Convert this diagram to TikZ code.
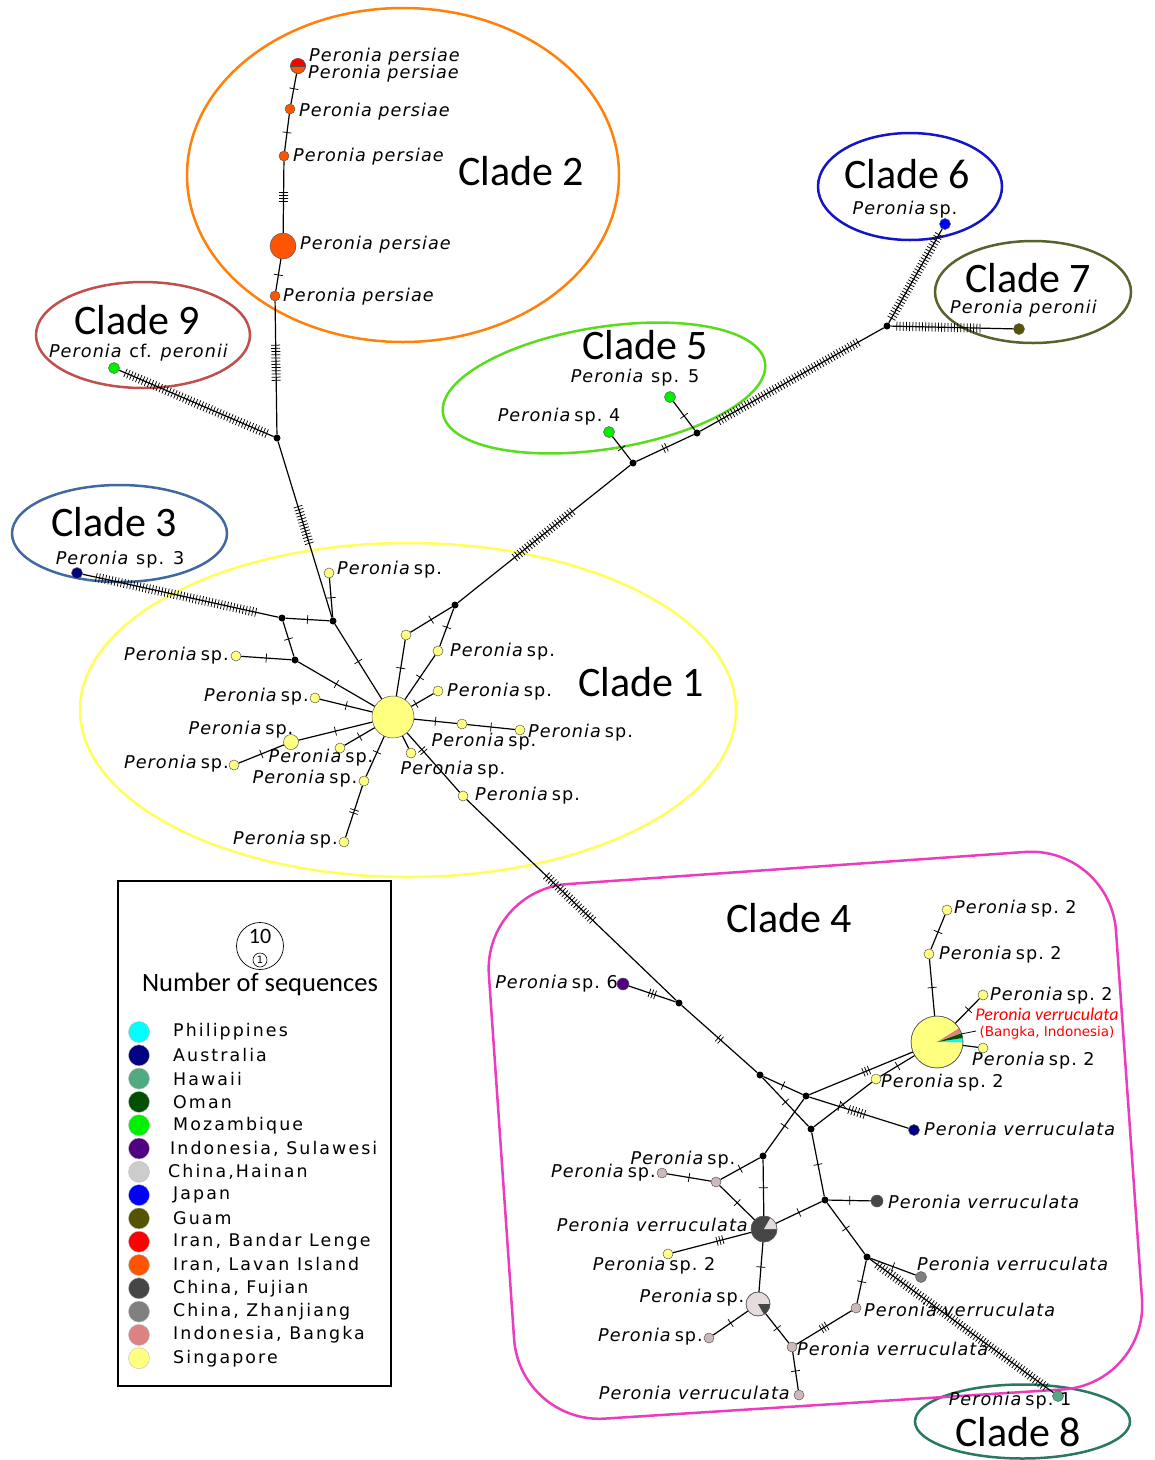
\documentclass[tikz,border=0pt]{standalone}
\usepackage{fontspec}
\setmainfont{DejaVu Sans}
\newfontfamily\labfont{DejaVu Sans}[LetterSpace=6]
\newfontfamily\legfont{DejaVu Sans}[LetterSpace=12]
\newfontfamily\cladefont{Carlito}
\usetikzlibrary{decorations.markings}
\definecolor{cCtwo}{RGB}{255,128,10}
\definecolor{cCnine}{RGB}{192,80,77}
\definecolor{cCthree}{RGB}{65,105,160}
\definecolor{cCone}{RGB}{255,255,90}
\definecolor{cCfive}{RGB}{90,220,30}
\definecolor{cCsix}{RGB}{20,20,200}
\definecolor{cCseven}{RGB}{85,100,45}
\definecolor{cCfour}{RGB}{235,60,190}
\definecolor{cCeight}{RGB}{40,120,100}
\definecolor{phil}{RGB}{0,255,255}
\definecolor{aus}{RGB}{0,0,128}
\definecolor{haw}{RGB}{80,170,130}
\definecolor{oman}{RGB}{0,80,0}
\definecolor{moz}{RGB}{0,240,0}
\definecolor{sula}{RGB}{80,0,128}
\definecolor{hain}{RGB}{204,204,204}
\definecolor{japan}{RGB}{0,0,255}
\definecolor{guam}{RGB}{85,85,0}
\definecolor{iranb}{RGB}{255,0,0}
\definecolor{iranl}{RGB}{255,85,0}
\definecolor{fuj}{RGB}{70,70,70}
\definecolor{zhan}{RGB}{128,128,128}
\definecolor{bang}{RGB}{220,130,130}
\definecolor{sing}{RGB}{255,255,128}
\definecolor{pgrey}{RGB}{205,185,185}
\definecolor{lgrey}{RGB}{228,220,220}
\newcommand\Psp{\textit{Peronia}\,sp.}
\newcommand\pieslice[5]{\fill[#5] (#1) -- ++({-#3}:#2) arc[start angle={-#3}, end angle={-#4}, radius=#2] -- cycle;}
\begin{document}
\begin{tikzpicture}[x=1pt,y=-1pt,
 e/.style={line width=1.2pt},
 tick/.style={line width=0.75pt},
 t1/.style={postaction={decorate,decoration={markings,mark=at position #1 with {\draw[tick] (0,-4.5)--(0,4.5);}}}}, t1/.default=0.5,
 t2/.style={postaction={decorate,decoration={markings,mark=at position #1 with {\draw[tick] (-1.6,-4.5)--(-1.6,4.5) (1.6,-4.5)--(1.6,4.5);}}}}, t2/.default=0.5,
 t3/.style={postaction={decorate,decoration={markings,mark=at position #1 with {\draw[tick] (-3,-4.5)--(-3,4.5) (0,-4.5)--(0,4.5) (3,-4.5)--(3,4.5);}}}}, t3/.default=0.5,
 t4/.style={postaction={decorate,decoration={markings,mark=at position #1 with {\draw[tick] (-4.5,-4.5)--(-4.5,4.5) (-1.5,-4.5)--(-1.5,4.5) (1.5,-4.5)--(1.5,4.5) (4.5,-4.5)--(4.5,4.5);}}}}, t4/.default=0.5,
 tm/.style 2 args={postaction={decorate,decoration={markings,mark=between positions #1 and #2 step 3.2pt with {\draw[tick] (0,-4.5)--(0,4.5);}}}},
 nd/.style={circle,draw=black!65,line width=0.5pt,inner sep=0pt,minimum size=#1}, nd/.default=10pt,
 jn/.style={circle,fill=black,inner sep=0pt,minimum size=7pt},
 lab/.style={font={\labfont\fontsize{17.6}{20}\selectfont},inner sep=0pt},
 clab/.style={font={\cladefont\fontsize{42}{46}\selectfont},inner sep=0pt},
 leg/.style={font={\legfont\fontsize{17.4}{19}\selectfont},inner sep=0pt,anchor=west},
 ldot/.style={circle,inner sep=0pt,minimum size=21pt,draw=black!25,line width=0.4pt},
 cl/.style={line width=2.5pt},
]
\useasboundingbox (0,0) rectangle (1155,1460);
\fill[white] (0,0) rectangle (1155,1460);

% ---------- clade outlines
\draw[cl,cCtwo] (403,175) ellipse [x radius=216, y radius=167];
\draw[cl,cCnine] (143,335) ellipse [x radius=107, y radius=53];
\draw[cl,cCthree] (119.5,533.5) ellipse [x radius=107.5, y radius=48.5];
\draw[cl,cCone] (408,710) ellipse [x radius=328, y radius=167];
\draw[cl,cCfive,rotate around={9:(604,388)}] (604,388) ellipse [x radius=163, y radius=61];
\draw[cl,cCsix] (910,186.5) ellipse [x radius=92, y radius=53.5];
\draw[cl,cCseven] (1033,292) ellipse [x radius=98, y radius=51];
\draw[cl,cCeight] (1022.5,1421.5) ellipse [x radius=107.5, y radius=37];
\draw[cl,cCfour,rounded corners=85] (483,890) -- (1110,846) -- (1148,1384) -- (520,1424) -- cycle;

% ---------- nodes: clade 2 / 9 / 3
\node[nd=15pt,fill=iranl] (pp1) at (298,66) {};
\node[nd,fill=iranl] (pp2) at (290,109) {};
\node[nd,fill=iranl] (pp3) at (284,156) {};
\node[nd=26pt,fill=iranl] (pp4) at (283,246) {};
\node[nd,fill=iranl] (pp5) at (275,296) {};
\node[jn] (j9) at (277,438) {};
\node[nd=11pt,fill=moz] (c9) at (114,368) {};
\node[nd=11pt,fill=aus] (c3) at (77,573) {};
\node[jn] (ja) at (333,621) {};
\node[jn] (jb) at (282,618) {};
\node[jn] (jc) at (295,660) {};
% clade 1
\node[nd=42pt,fill=sing] (hub) at (393,717) {};
\node[nd,fill=sing] (y1) at (329,573) {};
\node[nd,fill=sing] (y2) at (236,656) {};
\node[nd,fill=sing] (y3) at (315,698) {};
\node[nd=15pt,fill=sing] (y4) at (291,742) {};
\node[nd,fill=sing] (y5) at (234,765) {};
\node[nd,fill=sing] (y6) at (340,748) {};
\node[nd,fill=sing] (y7) at (364,781) {};
\node[nd,fill=sing] (y8) at (344,842) {};
\node[nd,fill=sing] (y9) at (406,635) {};
\node[nd,fill=sing] (y10) at (438,651) {};
\node[nd,fill=sing] (y11) at (438,691) {};
\node[nd,fill=sing] (y12) at (462,724) {};
\node[nd,fill=sing] (y13) at (520,730) {};
\node[nd,fill=sing] (y14) at (411,753) {};
\node[nd,fill=sing] (y15) at (463,796) {};
\node[jn] (jd) at (455,605) {};
% clades 5 6 7
\node[jn] (jf) at (633,463) {};
\node[jn] (jg) at (697,433) {};
\node[jn] (jh) at (887,326) {};
\node[nd=11pt,fill=moz] (s4) at (609,432) {};
\node[nd=11pt,fill=moz] (s5) at (670,397) {};
\node[nd=11pt,fill=japan] (jp) at (945,224) {};
\node[nd=11pt,fill=guam] (gu) at (1019,329) {};
% clade 4
\node[jn] (je) at (679,1003) {};
\node[nd=12pt,fill=sula] (s6) at (623,984) {};
\node[jn] (ji) at (760,1075) {};
\node[jn] (jj) at (806,1096) {};
\node[jn] (jk) at (811,1129) {};
\node[jn] (jl) at (763,1156) {};
\node[jn] (jm) at (825,1200) {};
\node[jn] (jo) at (867,1257) {};
\node[nd=52pt,fill=sing] (bigpie) at (937,1042) {};
\node[nd,fill=sing] (a1) at (947,910) {};
\node[nd,fill=sing] (a2) at (929,954) {};
\node[nd,fill=sing] (a3) at (983,995) {};
\node[nd,fill=sing] (a4) at (983,1048) {};
\node[nd,fill=sing] (a5) at (876,1079) {};
\node[nd=11pt,fill=aus] (au) at (914,1130) {};
\node[nd,fill=pgrey] (g1) at (716,1182) {};
\node[nd,fill=pgrey] (g2) at (662,1173) {};
\node[nd=26pt,fill=fuj] (dpie) at (764,1229) {};
\node[nd,fill=sing] (yb) at (668,1254) {};
\node[nd=24pt,fill=lgrey] (lpie) at (758,1304) {};
\node[nd,fill=pgrey] (g3) at (709,1338) {};
\node[nd,fill=pgrey] (g4) at (792,1347) {};
\node[nd,fill=pgrey] (g5) at (799,1395) {};
\node[nd,fill=pgrey] (g6) at (856,1308) {};
\node[nd=11pt,fill=zhan] (zh) at (921,1277) {};
\node[nd=12pt,fill=fuj] (fj) at (877,1201) {};
\node[nd=11pt,fill=haw] (hw) at (1058,1396) {};

% ---------- pies
\fill[iranb] (pp1.center) ++(-7.5,0) arc[start angle=180,end angle=360,radius=7.5] -- cycle;
\draw[line width=0.6pt,black!70] (pp1.west) -- (pp1.east);
\draw[black!65,line width=0.5pt] (pp1.center) circle[radius=7.5];
\pieslice{bigpie.center}{26}{0}{9}{phil}
\pieslice{bigpie.center}{26}{9}{20}{oman}
\pieslice{bigpie.center}{26}{20}{32}{bang}
\draw[black!65,line width=0.5pt] (bigpie.center) circle[radius=26];
\pieslice{dpie.center}{13}{0}{60}{lgrey}
\draw[black!65,line width=0.5pt] (dpie.center) circle[radius=13];
\pieslice{lpie.center}{12}{-60}{0}{fuj}
\draw[black!65,line width=0.5pt] (lpie.center) circle[radius=12];

% ---------- edges
\draw[e,t1] (pp1) -- (pp2);
\draw[e,t1] (pp2) -- (pp3);
\draw[e,t4] (pp3) -- (pp4);
\draw[e,t1] (pp4) -- (pp5);
\draw[e,tm={0.33}{0.6}] (pp5) -- (j9);
\draw[e,tm={0.04}{0.97}] (c9) -- (j9);
\draw[e,tm={0.37}{0.58}] (j9) -- (ja);
\draw[e,tm={0.07}{0.9}] (c3) -- (jb);
\draw[e,t1] (jb) -- (ja);
\draw[e,t1] (jb) -- (jc);
\draw[e,t1] (jc) -- (y2);
\draw[e,t1] (jc) -- (hub);
\draw[e,t1] (ja) -- (y1);
\draw[e,t1] (ja) -- (hub);
\draw[e,t1] (y3) -- (hub);
\draw[e,t1] (y4) -- (hub);
\draw[e,t1] (y4) -- (y5);
\draw[e,t1] (y6) -- (hub);
\draw[e,t1=0.4] (hub) -- (y7);
\draw[e,t2] (y7) -- (y8);
\draw[e,t1] (hub) -- (y9);
\draw[e,t1] (y9) -- (jd);
\draw[e,t1] (jd) -- (y10);
\draw[e,t1] (y10) -- (hub);
\draw[e,t1=0.8] (y11) -- (hub);
\draw[e,t1] (hub) -- (y12);
\draw[e,t1] (y12) -- (y13);
\draw[e] (hub) -- (y14);
\draw[e,t2=0.3] (hub) -- (y15);
\draw[e,tm={0.38}{0.61}] (y15) -- (je);
\draw[e,tm={0.33}{0.67}] (jd) -- (jf);
\draw[e,t2] (jf) -- (jg);
\draw[e,t1] (jf) -- (s4);
\draw[e,t1] (jg) -- (s5);
\draw[e,tm={0.1}{0.86}] (jg) -- (jh);
\draw[e,tm={0.05}{0.95}] (jh) -- (jp);
\draw[e,tm={0.05}{0.75}] (jh) -- (gu);
\draw[e,t3] (je) -- (s6);
\draw[e,t2] (je) -- (ji);
\draw[e,t1] (ji) -- (jj);
\draw[e,t1] (ji) -- (jk);
\draw[e,t3=0.55] (jj) -- (bigpie);
\draw[e,t1=0.3,tm={0.4}{0.56}] (jj) -- (au);
\draw[e,t1] (jj) -- (jl);
\draw[e,t1] (jk) -- (a5);
\draw[e,t1] (a5) -- (bigpie);
\draw[e,t1] (jk) -- (jm);
\draw[e,t1] (jm) -- (fj);
\draw[e,t1] (jm) -- (jo);
\draw[e,t1] (jm) -- (dpie);
\draw[e,t1] (jo) -- (zh);
\draw[e,t1] (jo) -- (g6);
\draw[e,t3] (g6) -- (g4);
\draw[e,t1] (g4) -- (g5);
\draw[e,tm={0.04}{0.96}] (jo) -- (hw);
\draw[e,t1] (jl) -- (dpie);
\draw[e,t1] (jl) -- (g1);
\draw[e,t1] (g1) -- (g2);
\draw[e,t1] (g1) -- (dpie);
\draw[e,t3=0.6] (yb) -- (dpie);
\draw[e,t1] (dpie) -- (lpie);
\draw[e,t1] (lpie) -- (g3);
\draw[e,t1] (lpie) -- (g4);
\draw[e,t1] (bigpie) -- (a2);
\draw[e,t1] (a2) -- (a1);
\draw[e,t1=0.55] (bigpie) -- (a3);
\draw[e] (bigpie) -- (a4);
\coordinate (ptrA) at (961,1034);
\coordinate (ptrB) at (976,1031);
\draw[line width=0.8pt] (ptrA) -- (ptrB);

% ---------- clade titles
\node[clab] (t2) at (521,171) {Clade 2};
\node[clab] (t9) at (137,320) {Clade 9};
\node[clab] (t3) at (114,522) {Clade 3};
\node[clab] (t5) at (645,345) {Clade 5};
\node[clab] (t6) at (907,174) {Clade 6};
\node[clab] (t7) at (1028,278) {Clade 7};
\node[clab] (t1) at (641,682) {Clade 1};
\node[clab] (t4) at (789,918) {Clade 4};
\node[clab] (t8) at (1018,1432) {Clade 8};

% ---------- labels
\node[lab,anchor=west] (l1) at (309,57) {\textit{Peronia persiae}};
\node[lab,anchor=west] (l2) at (308,74) {\textit{Peronia persiae}};
\node[lab,anchor=west] (l3) at (299,112) {\textit{Peronia persiae}};
\node[lab,anchor=west] (l4) at (293,157) {\textit{Peronia persiae}};
\node[lab,anchor=west] (l5) at (300,245) {\textit{Peronia persiae}};
\node[lab,anchor=west] (l6) at (283,297) {\textit{Peronia persiae}};
\node[lab] (l7) at (139,353) {\textit{Peronia} cf. \textit{peronii}};
\node[lab] (l8) at (120,560) {\textit{Peronia} sp. 3};
\node[lab] (l9) at (635,378) {\textit{Peronia} sp. 5};
\node[lab] (l10) at (559,417) {\Psp\ 4};
\node[lab] (l11) at (905,210) {\Psp};
\node[lab] (l12) at (1024,309) {\textit{Peronia peronii}};
% clade 1
\node[lab,anchor=west] (m1) at (337,570) {\Psp};
\node[lab,anchor=east] (m2) at (229,656) {\Psp};
\node[lab,anchor=east] (m3) at (309,697) {\Psp};
\node[lab] (m4) at (241,730) {\Psp};
\node[lab,anchor=east] (m5) at (229,764) {\Psp};
\node[lab] (m6) at (321,758) {\Psp};
\node[lab] (m7) at (305,779) {\Psp};
\node[lab,anchor=east] (m8) at (338,840) {\Psp};
\node[lab,anchor=west] (m9) at (450,652) {\Psp};
\node[lab,anchor=west] (m10) at (447,692) {\Psp};
\node[lab] (m11) at (484,742) {\Psp};
\node[lab,anchor=west] (m12) at (528,733) {\Psp};
\node[lab] (m13) at (453,770) {\Psp};
\node[lab,anchor=west] (m14) at (475,796) {\Psp};
% clade 4
\node[lab,anchor=east] (n1) at (618,984) {\Psp\ 6};
\node[lab,anchor=west] (n2) at (954,909) {\Psp\ 2};
\node[lab,anchor=west] (n3) at (939,955) {\Psp\ 2};
\node[lab,anchor=west] (n4) at (990,996) {\Psp\ 2};
\node[lab,anchor=west] (n5) at (972,1061) {\Psp\ 2};
\node[lab,anchor=west] (n6) at (881,1083) {\Psp\ 2};
\node[lab,anchor=west] (n7) at (924,1129) {\textit{Peronia verruculata}};
\node[lab] (n8) at (683,1160) {\Psp};
\node[lab,anchor=east] (n9) at (656,1173) {\Psp};
\node[lab,anchor=east] (n10) at (749,1225) {\textit{Peronia verruculata}};
\node[lab,anchor=west] (n11) at (888,1202) {\textit{Peronia verruculata}};
\node[lab] (n12) at (654,1266) {\Psp\ 2};
\node[lab,anchor=west] (n13) at (917,1264) {\textit{Peronia verruculata}};
\node[lab] (n14) at (692,1298) {\Psp};
\node[lab,anchor=west] (n15) at (864,1310) {\textit{Peronia verruculata}};
\node[lab,anchor=east] (n16) at (703,1337) {\Psp};
\node[lab,anchor=west] (n17) at (797,1349) {\textit{Peronia verruculata}};
\node[lab,anchor=east] (n18) at (791,1393) {\textit{Peronia verruculata}};
\node[lab] (n19) at (1010,1401) {\Psp\ 1};
\node[inner sep=0pt,text=iranb,font={\cladefont\itshape\fontsize{18}{19}\selectfont}] (r1) at (1047,1014) {Peronia verruculata};
\node[inner sep=0pt,text=iranb,font={\fontsize{13.5}{14}\selectfont}] (r2) at (1047,1033) {(Bangka, Indonesia)};

% ---------- legend
\node[draw,line width=1.3pt,minimum width=273pt,minimum height=505pt,inner sep=0pt] (legend) at (254.5,1133.5) {};
\node[circle,draw,line width=0.7pt,minimum size=47pt,inner sep=0pt] (lc10) at (260,946) {};
\node[inner sep=0pt,font={\cladefont\fontsize{22}{23}\selectfont}] (lt10) at (260,936) {10};
\node[circle,draw,line width=0.6pt,minimum size=14pt,inner sep=0pt,font={\fontsize{10}{10}\selectfont}] (lc1) at (260,960) {1};
\node[inner sep=0pt,font={\cladefont\fontsize{26.5}{28}\selectfont}] (lns) at (260,984) {Number of sequences};
\foreach \i/\c/\t/\xx in {0/phil/Philippines/173, 1/aus/Australia/173, 2/haw/Hawaii/173, 3/oman/Oman/173, 4/moz/Mozambique/173, 5/sula/{Indonesia, Sulawesi}/170, 6/hain/{China,Hainan}/168, 7/japan/Japan/173, 8/guam/Guam/173, 9/iranb/{Iran, Bandar Lenge}/173, 10/iranl/{Iran, Lavan Island}/173, 11/fuj/{China, Fujian}/173, 12/zhan/{China, Zhanjiang}/173, 13/bang/{Indonesia, Bangka}/173, 14/sing/Singapore/173}{
  \node[ldot,fill=\c] (ld\i) at (139,{1032+23.3*\i}) {};
  \node[leg] (lt\i) at (\xx,{1032+23.3*\i}) {\t};
}
\end{tikzpicture}
\end{document}
